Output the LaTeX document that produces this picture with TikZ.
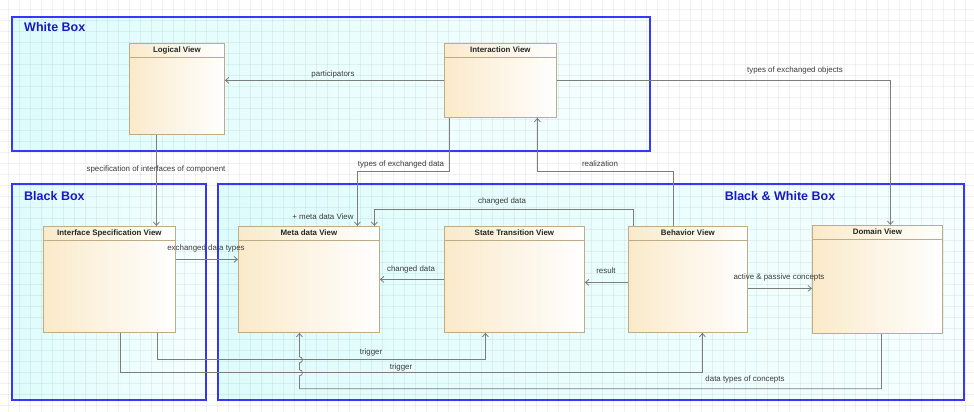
\documentclass[tikz,border=0pt]{standalone}
\usepackage{fontspec}
\setmainfont{Liberation Sans}
\usetikzlibrary{arrows.meta}
\definecolor{frameB}{RGB}{55,55,255}
\definecolor{titleblue}{RGB}{25,25,195}
\definecolor{frameL}{RGB}{222,252,252}
\definecolor{frameR}{RGB}{246,255,255}
\definecolor{vleft}{RGB}{250,234,202}
\definecolor{vborder}{RGB}{190,172,135}
\definecolor{conncol}{RGB}{125,125,122}
\definecolor{labcol}{RGB}{60,60,60}
\tikzset{
  frame/.style={draw=frameB, line width=1.8pt, left color=frameL, right color=frameR, inner sep=0pt, anchor=north west},
  frametitle/.style={text=titleblue, font=\fontsize{12.5}{14}\selectfont\bfseries, inner sep=0pt},
  viewn/.style={draw=vborder, line width=0.8pt, left color=vleft, right color=white, inner sep=0pt, anchor=north west},
  vtitle/.style={font=\fontsize{7.9}{9}\selectfont\bfseries, text=black!85, inner sep=0pt},
  hdr/.style={draw=vborder, line width=0.8pt},
  conn/.style={draw=conncol, line width=0.8pt, -{Straight Barb[length=3.5pt,width=6pt]}},
  lab/.style={font=\fontsize{7.9}{9}\selectfont, text=labcol, inner sep=0pt},
  gridl/.style={draw=black, opacity=0.055, line width=0.7pt}
}
\begin{document}
\begin{tikzpicture}[x=1pt,y=-1pt]
\useasboundingbox (0,0) rectangle (974,412);
\fill[white] (0,0) rectangle (974,412);
% frames
\node[frame, minimum width=638pt, minimum height=134pt] (wb) at (11,16) {};
\node[frame, minimum width=194pt, minimum height=216pt] (bb) at (11,183) {};
\node[frame, minimum width=746pt, minimum height=216pt] (bwb) at (217,183) {};
% grid
\foreach \x in {8,19,...,974} \draw[gridl] (\x,0) -- (\x,412);
\foreach \y in {9,20,...,412} \draw[gridl] (0,\y) -- (974,\y);
\node[frametitle, anchor=west] (wbt) at (24,27) {White Box};
\node[frametitle, anchor=west] (bbt) at (24,196) {Black Box};
\node[frametitle] (bwbt) at (780,196) {Black \& White Box};
% views
\node[viewn, minimum width=95pt, minimum height=91pt] (lv) at (129,43) {};
\node[viewn, minimum width=112pt, minimum height=74pt] (ia) at (444,43) {};
\node[viewn, minimum width=132pt, minimum height=106pt] (isv) at (43,226) {};
\node[viewn, minimum width=141pt, minimum height=106pt] (mdv) at (238,226) {};
\node[viewn, minimum width=140pt, minimum height=106pt] (stv) at (444,226) {};
\node[viewn, minimum width=119pt, minimum height=106pt] (bv) at (628,226) {};
\node[viewn, minimum width=130pt, minimum height=108pt] (dom) at (812,225) {};
\foreach \n/\t in {lv/Logical View, ia/Interaction View, isv/Interface Specification View, mdv/Meta data View, stv/State Transition View, bv/Behavior View, dom/Domain View}{
  \draw[hdr] ([yshift=-14pt]\n.north west) -- ([yshift=-14pt]\n.north east);
  \node[vtitle] (\n t) at ([yshift=-7pt]\n.north) {\t};
}
% connectors
\draw[conn] (ia.west) -- (ia.west -| lv.east);
\draw[conn] (ia.east) -| ([xshift=13pt]dom.north);
\draw[conn] ([xshift=-20.5pt]lv.south) -- ([xshift=-20.5pt]lv.south |- isv.north);
\draw[conn] ([xshift=-51pt]ia.south) -- ++(0,54) -| ([xshift=48.5pt]mdv.north);
\draw[conn] ([xshift=-14.5pt]bv.north) -- ++(0,-55) -| ([xshift=37pt]ia.south);
\draw[conn] ([xshift=-54.5pt]bv.north) -- ++(0,-17) -| ([xshift=65.5pt]mdv.north);
\draw[conn] (stv.west) -- (stv.west -| mdv.east);
\draw[conn] ([yshift=-3pt]bv.west) -- ([yshift=-3pt]bv.west -| stv.east);
\draw[conn] ([yshift=-9pt]bv.east) -- ([yshift=-9pt]bv.east -| dom.west);
\draw[conn] ([yshift=20pt]isv.east) -- ([yshift=20pt]isv.east -| mdv.west);
\draw[conn] ([xshift=48pt]isv.south) -- ++(0,27) -| ([xshift=-29pt]stv.south);
\draw[conn] ([xshift=11pt]isv.south) -- ++(0,40) -| ([xshift=14.5pt]bv.south);
\coordinate (hx) at ([xshift=-9.5pt]mdv.south);
\draw[conn] ([xshift=4pt]dom.south) |- ([yshift=-56pt]hx) -- ([yshift=-43pt]hx)
  .. controls +(4,0) and +(4,0) .. ([yshift=-37pt]hx) -- ([yshift=-30pt]hx)
  .. controls +(4,0) and +(4,0) .. ([yshift=-24pt]hx) -- (hx);
% labels
\node[lab] (l1) at (333,74) {participators};
\node[lab] (l2) at (795,70) {types of exchanged objects};
\node[lab] (l3) at (156,169) {specification of interfaces of component};
\node[lab] (l4) at (401,164) {types of exchanged data};
\node[lab] (l5) at (600,164) {realization};
\node[lab] (l6) at (323,217) {+ meta data View};
\node[lab] (l7) at (502,201) {changed data};
\node[lab] (l8) at (411,269) {changed data};
\node[lab] (l9) at (606,271) {result};
\node[lab] (l10) at (779,277) {active \& passive concepts};
\node[lab] (l11) at (206,248) {exchanged data types};
\node[lab] (l12) at (371,352) {trigger};
\node[lab] (l13) at (401,367) {trigger};
\node[lab] (l14) at (745,379) {data types of concepts};
\end{tikzpicture}
\end{document}
